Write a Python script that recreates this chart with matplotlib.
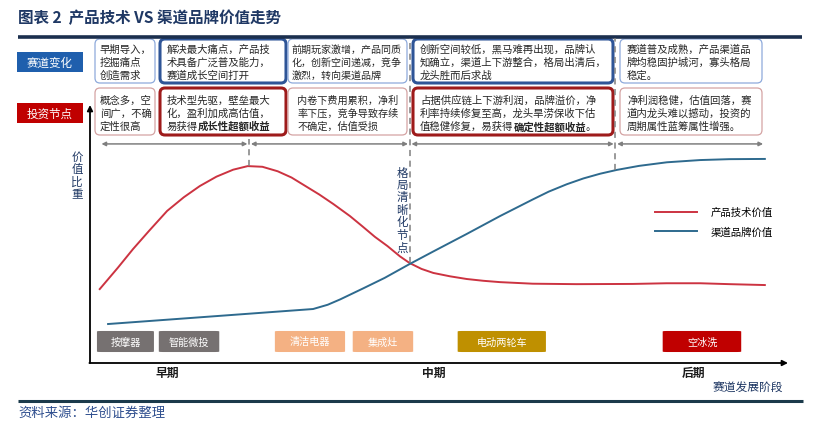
import numpy as np
import matplotlib
matplotlib.use("Agg")
import matplotlib.pyplot as plt
from matplotlib.patches import FancyBboxPatch

plt.rcParams['font.family'] = ['Noto Sans CJK SC', 'DejaVu Sans']

# ---- text content ----
title = "图表 2  产品技术 VS 渠道品牌价值走势"
source = "资料来源：华创证券整理"
row_labels = ["赛道变化", "投资节点"]

track_text = [
    ["早期导入，", "挖掘痛点", "创造需求"],
    ["解决最大痛点，产品技", "术具备广泛普及能力，", "赛道成长空间打开"],
    ["前期玩家激增，产品同质", "化，创新空间递减，竞争", "激烈，转向渠道品牌"],
    ["创新空间较低，黑马难再出现，品牌认", "知确立，渠道上下游整合，格局出清后，", "龙头胜而后求战"],
    ["赛道普及成熟，产品渠道品", "牌均稳固护城河，寡头格局", "稳定。"],
]
invest_text = [
    ["概念多，空", "间广，不确", "定性很高"],
    ["技术型先驱，壁垒最大", "化，盈利加成高估值，", "易获得**成长性超额收益"],
    ["内卷下费用累积，净利", "率下压，竞争导致存续", "不确定，估值受损"],
    ["占据供应链上下游利润，品牌溢价，净", "利率持续修复至高，龙头旱涝保收下估", "值稳健修复，易获得**确定性超额收益**。"],
    ["净利润稳健，估值回落，赛", "道内龙头难以撼动，投资的", "周期属性蓝筹属性增强。"],
]
highlight = [False, True, False, True, False]

# ---- curves (x: development stage 0-100, y: value share 0-100) ----
tech_x = [1.4, 4.0, 6.2, 8.5, 11.1, 13.5, 15.8, 18.2, 20.6, 22.7, 24.8, 27.0,
          29.0, 31.0, 33.0, 35.0, 37.4, 39.2, 41.0, 42.8, 44.6, 46.0, 47.7,
          49.4, 51.8, 54.2, 56.6, 59.0, 63.7, 70.0, 78.1, 83.0, 87.8, 92.0, 97.1]
tech_y = [33.0, 42.5, 50.9, 59.0, 67.9, 74.0, 79.0, 83.2, 86.3, 87.9, 87.6, 85.6,
          82.8, 79.0, 75.2, 71.0, 65.6, 61.0, 56.3, 52.2, 47.6, 44.6, 42.0,
          40.2, 38.7, 37.5, 36.7, 36.1, 35.4, 35.2, 35.3, 35.6, 35.6, 35.2, 34.8]
brand_x = [2.6, 32.1, 34.2, 36.0, 39.3, 42.4, 46.0, 49.4, 54.2, 59.0, 63.7,
           66.0, 68.6, 71.0, 73.4, 75.8, 79.0, 83.0, 87.8, 92.0, 97.1]
brand_y = [17.4, 24.1, 26.0, 28.4, 33.3, 38.0, 44.2, 49.8, 57.6, 65.6, 73.0,
           76.5, 79.8, 82.4, 84.5, 86.2, 88.0, 89.6, 90.6, 91.0, 91.1]
series_names = ["产品技术价值", "渠道品牌价值"]

stage_bounds = [1.4, 22.9, 46.0, 75.6, 97.1]
stage_labels = ["早期", "中期", "后期"]
stage_label_x = [11.1, 49.4, 86.8]
axis_title = "赛道发展阶段"
y_title = "价值比重"
node_label = "格局清晰化节点"

categories = ["按摩器", "智能微投", "清洁电器", "集成灶", "电动两轮车", "空冰洗"]
cat_colors = ["#767171", "#767171", "#F4B183", "#F4B183", "#BF9000", "#C00000"]
cat_x0 = [1.0, 9.9, 26.6, 37.8, 52.9, 82.4]
cat_x1 = [9.2, 18.6, 36.7, 46.5, 65.6, 93.7]

# ---- figure ----
fig = plt.figure(figsize=(8.15, 4.27), dpi=100)
ax0 = fig.add_axes([0, 0, 1, 1])
ax0.set_xlim(0, 815)
ax0.set_ylim(427, 0)
ax0.axis('off')

navy = '#1F3864'
ax0.text(18, 18, title, fontsize=11.2, fontweight='bold', color=navy, va='center')
ax0.plot([18, 802], [38, 38], color='#1B2F4E', lw=2.6, solid_capstyle='butt')
ax0.plot([18, 803], [402, 402], color='#1B3A4B', lw=2.2, solid_capstyle='butt')
ax0.text(18, 413, source, fontsize=9.6, color='#2F4F8F', va='center', style='italic')

# left row labels
for lab, y0, col in zip(row_labels, [53, 104], ['#1F5FAD', '#C00000']):
    ax0.add_patch(plt.Rectangle((17, y0), 66, 20, color=col, lw=0))
    ax0.text(50, y0 + 10, lab, color='white', fontsize=8.3, ha='center', va='center')

box_x = [95, 160, 288, 413, 620]
box_w = [60, 126, 119, 200, 142]
pad_top = [5, 7, 4, 7, 7]
pad_bot = [5, 7, 9, 7, 7]
size_top = [7.5, 7.5, 7.2, 7.5, 7.5]
size_bot = [7.5, 7.5, 7.3, 7.5, 7.5]


def draw_lines(lines, x, yc, size=7.5):
    n = len(lines)
    for i, line in enumerate(lines):
        y = yc + (i - (n - 1) / 2) * 13
        parts = line.split("**")
        prev = None
        for j, seg in enumerate(parts):
            if not seg:
                continue
            w = 'bold' if j % 2 == 1 else 'normal'
            if prev is None:
                prev = ax0.text(x, y, seg, fontsize=size, color='#262626',
                                va='center', ha='left', fontweight=w)
            else:
                prev = ax0.annotate(seg, xy=(1, 0.5), xycoords=prev, fontsize=size,
                                    color='#262626', va='center', ha='left', fontweight=w)


for i in range(5):
    thick = highlight[i]
    ec1 = '#2F5597' if thick else '#8EAADB'
    ec2 = '#9E1B1B' if thick else '#D4A3A3'
    lw = 2.2 if thick else 0.9
    ax0.add_patch(FancyBboxPatch((box_x[i], 40), box_w[i], 44,
                                 boxstyle="round,pad=0,rounding_size=5",
                                 fc='white', ec=ec1, lw=lw))
    ax0.add_patch(FancyBboxPatch((box_x[i], 89), box_w[i], 47,
                                 boxstyle="round,pad=0,rounding_size=5",
                                 fc='white', ec=ec2, lw=lw))
    draw_lines(track_text[i], box_x[i] + pad_top[i], 62.5, size_top[i])
    draw_lines(invest_text[i], box_x[i] + pad_bot[i], 114, size_bot[i])

# axes arrows
ax0.annotate('', xy=(90, 106), xytext=(90, 364),
             arrowprops=dict(arrowstyle='-|>', color='black', lw=1.3,
                             mutation_scale=8, shrinkA=0, shrinkB=0))
ax0.annotate('', xy=(788, 364), xytext=(89.4, 364),
             arrowprops=dict(arrowstyle='-|>', color='black', lw=1.3,
                             mutation_scale=8, shrinkA=0, shrinkB=0))

# vertical labels
for k, ch in enumerate(y_title):
    ax0.text(77, 157 + k * 12.7, ch, fontsize=8.3, color=navy, ha='center', va='center')
for k, ch in enumerate(node_label):
    ax0.text(402, 173 + k * 12.5, ch, fontsize=8.3, color=navy, ha='center', va='center')

# ---- chart area ----
ax = fig.add_axes([90 / 815, 1 - 364 / 427, 695 / 815, 224 / 427])
ax.set_xlim(0, 100)
ax.set_ylim(0, 100)
ax.axis('off')
ax.patch.set_alpha(0)

red = '#CC3341'
blue = '#2E6A8E'
ax.plot(tech_x, tech_y, color=red, lw=1.4, label=series_names[0])
ax.plot(brand_x, brand_y, color=blue, lw=1.4, label=series_names[1])

# dashed stage separators
gray = '#7F7F7F'
peak_y = np.interp(stage_bounds[1], tech_x, tech_y)
cross_y = np.interp(stage_bounds[2], tech_x, tech_y)
mature_y = np.interp(stage_bounds[3], brand_x, brand_y)
for xb, ytop, ybot in zip(stage_bounds[1:4], [100, 145, 145], [peak_y, cross_y, mature_y]):
    ax.plot([xb, xb], [ybot, ytop], color=gray, lw=1.1, ls=(0, (4, 3)), clip_on=False)

# double arrows on top
for a, b in zip(stage_bounds[:-1], stage_bounds[1:]):
    ax.annotate('', xy=(b - 0.25, 97.8), xytext=(a + 0.25, 97.8),
                arrowprops=dict(arrowstyle='<|-|>', color=gray, lw=1.1,
                                mutation_scale=6, shrinkA=0, shrinkB=0))

# category tags
for lab, col, x0, x1 in zip(categories, cat_colors, cat_x0, cat_x1):
    ax.add_patch(FancyBboxPatch((x0, 4.9), x1 - x0, 9.4,
                                boxstyle="round,pad=0,rounding_size=0.6",
                                fc=col, ec='none', mutation_aspect=2.24 / 6.95))
    ax.text((x0 + x1) / 2, 9.6, lab, color='white', fontsize=7.3, ha='center', va='center')

for lab, xs in zip(stage_labels, stage_label_x):
    ax.text(xs, -4, lab, fontsize=8.5, fontweight='bold', color='#1a1a1a',
            ha='center', va='center', clip_on=False)
ax.text(89.6, -10.7, axis_title, fontsize=8.5, color=navy, ha='left', va='center', clip_on=False)

ax.legend(loc='upper left', bbox_to_anchor=(655 / 815, 1 - 208 / 427),
          bbox_transform=fig.transFigure, frameon=False, fontsize=7.5,
          handlelength=4.0, handletextpad=1.3, labelspacing=0.85,
          borderpad=0, borderaxespad=0)

fig.savefig("out.png", dpi=100)
